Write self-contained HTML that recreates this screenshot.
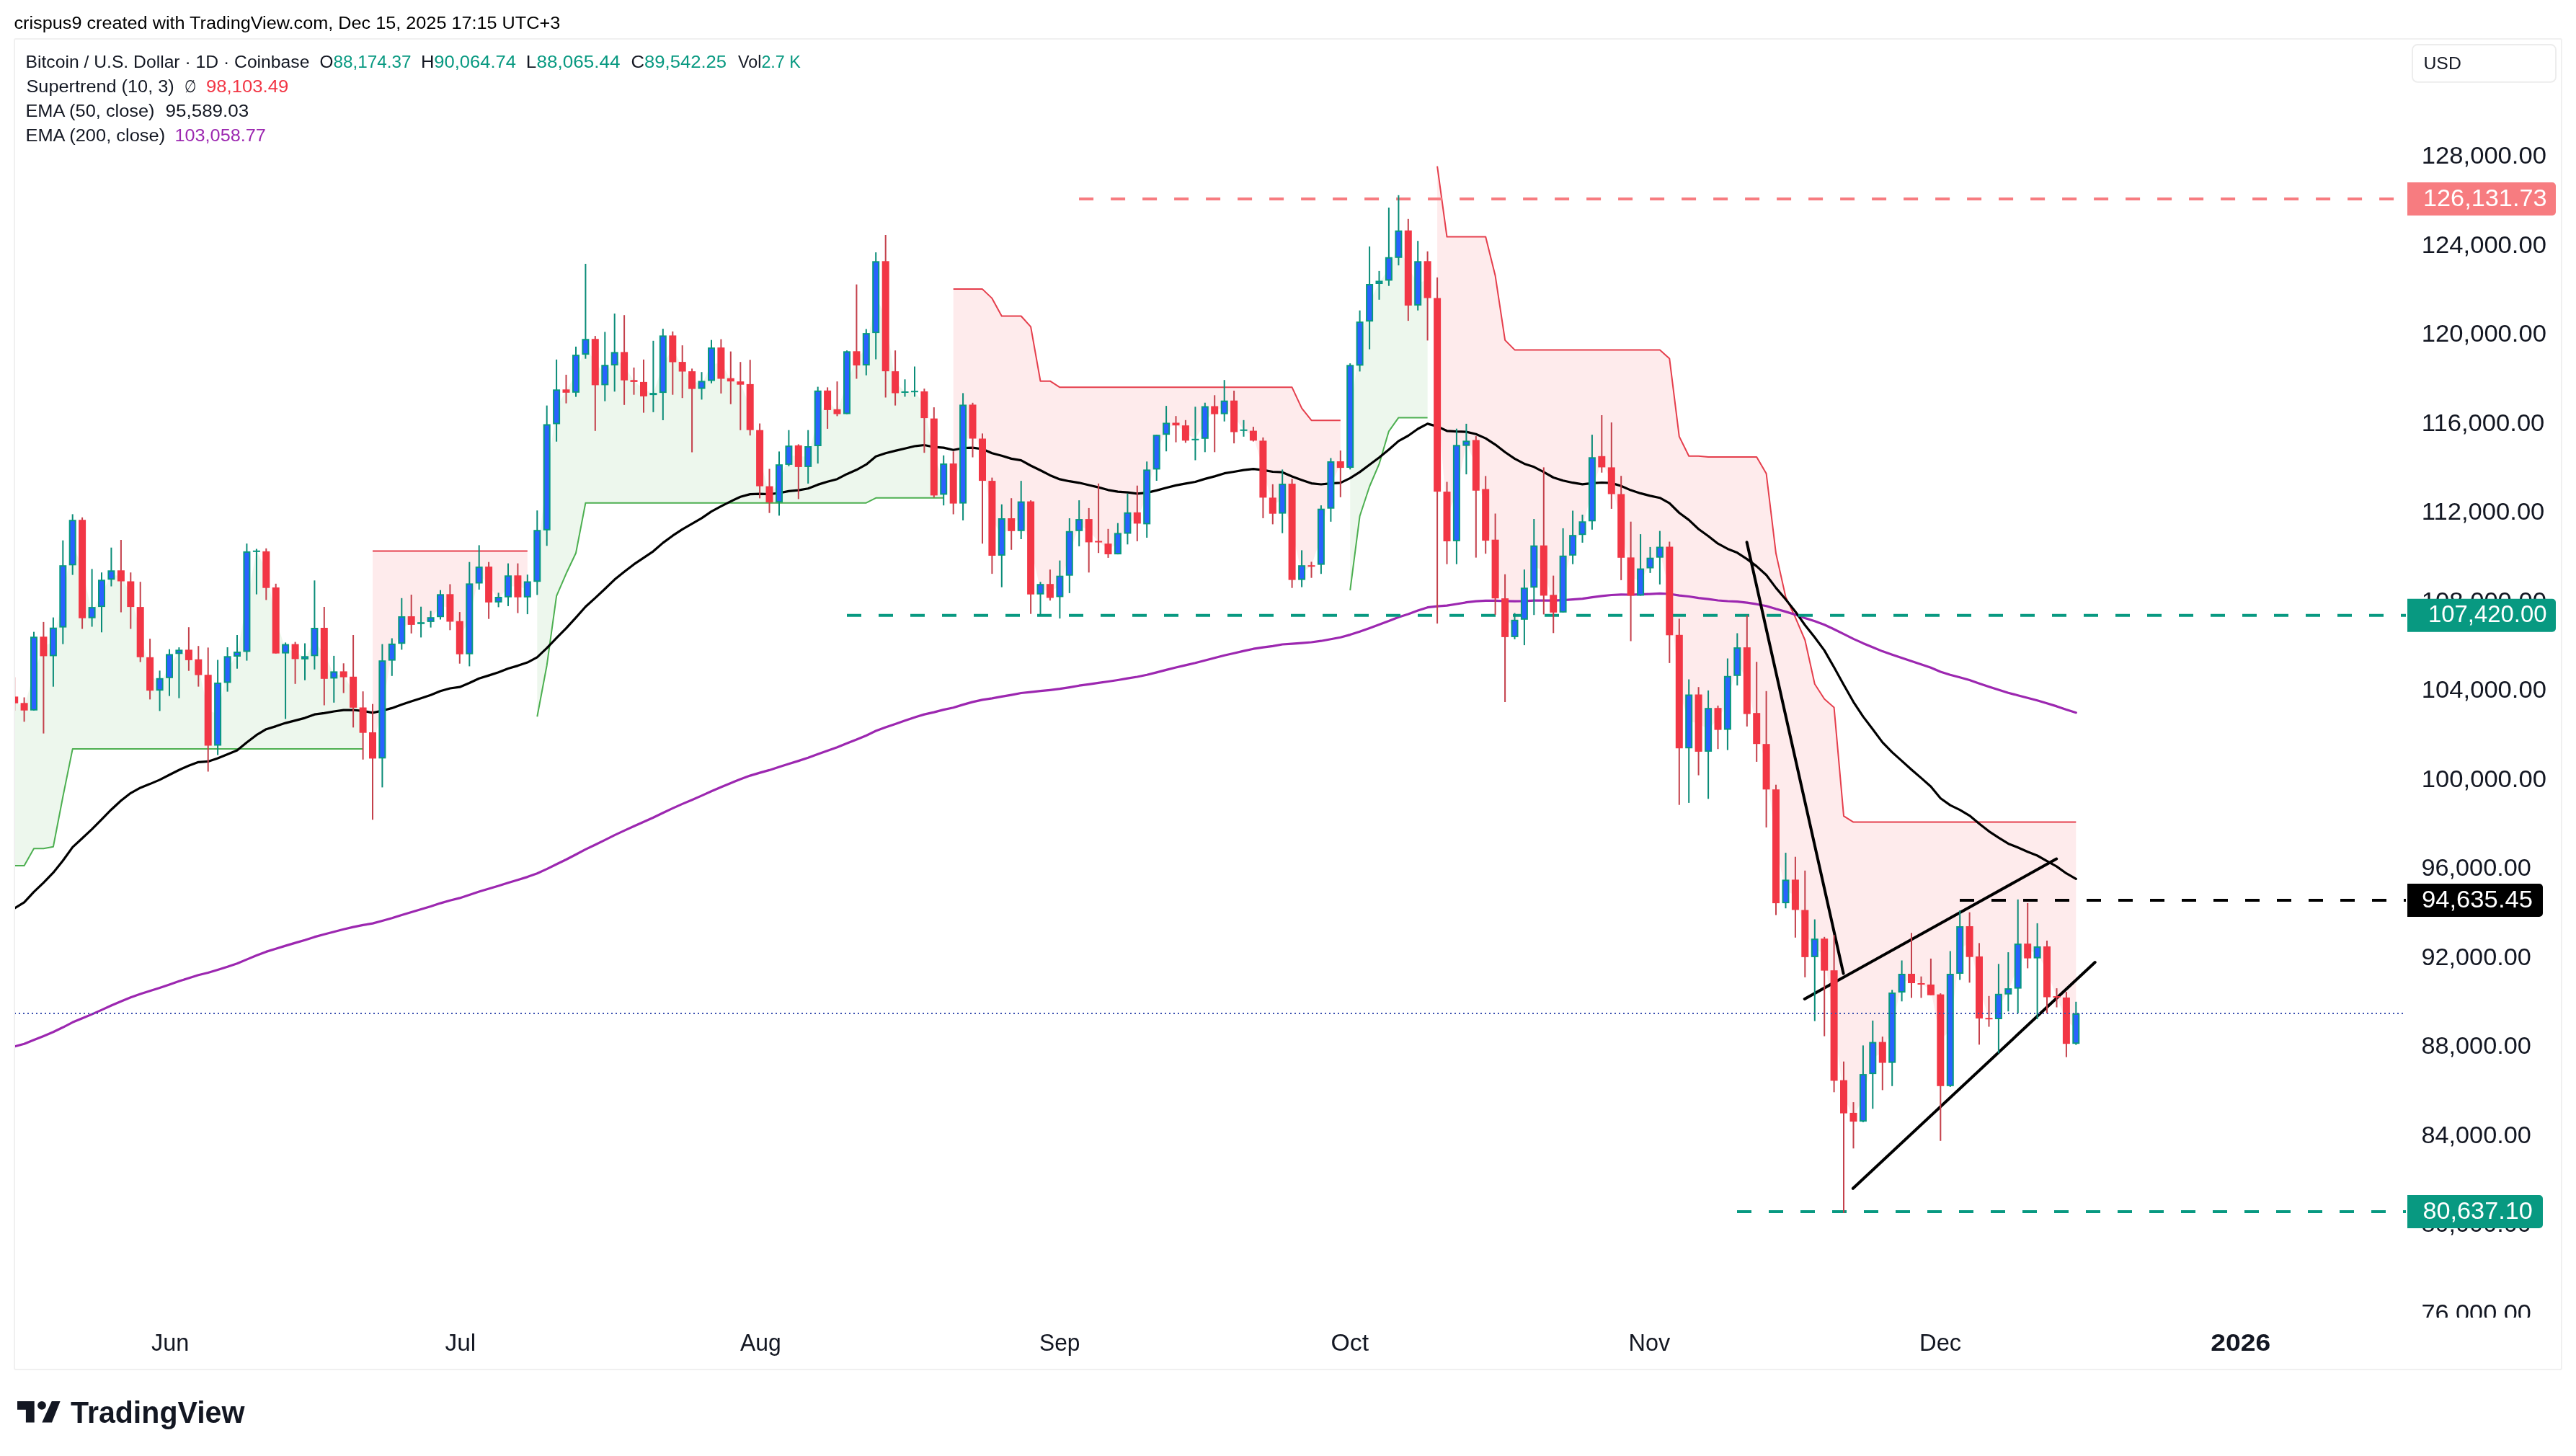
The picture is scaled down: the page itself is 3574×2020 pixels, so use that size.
<!DOCTYPE html><html><head><meta charset="utf-8"><style>
html,body{margin:0;padding:0;background:#fff;width:3574px;height:2020px;overflow:hidden}
svg{position:absolute;left:0;top:0;display:block;will-change:transform}
text{font-family:"Liberation Sans", sans-serif}
</style></head><body>
<svg width="3574" height="2020" viewBox="0 0 3574 2020">
<defs><clipPath id="pane"><rect x="21" y="55" width="3317" height="1773"/></clipPath>
<clipPath id="axis"><rect x="3338" y="55" width="215" height="1773"/></clipPath></defs>
<rect x="20" y="54" width="3534" height="1846" rx="2" fill="none" stroke="#f0f0f0" stroke-width="2"/>
<g clip-path="url(#pane)">
<polygon points="16,1200.9 33.6,1200.9 47,1177.2 60.4,1177.2 73.9,1174.7 87.3,1105.3 100.7,1039.1 114.1,1039 127.6,1039 141,1039 154.4,1039 167.9,1039 181.3,1039 194.7,1039 208.1,1039 221.6,1039 235,1039 248.4,1039 261.9,1039 275.3,1039 288.7,1039 302.1,1039 315.6,1039 329,1039 342.4,1039 355.9,1039 369.3,1039 382.7,1039 396.1,1039 409.6,1039 423,1039 436.4,1039 449.8,1039 463.3,1039 476.7,1039 490.1,1039 503.6,1039 503.6,999.1 490.1,960.4 476.7,935.5 463.3,936.4 449.8,906.4 436.4,890.6 423,912.5 409.6,904 396.1,900.1 382.7,860.8 369.3,790.3 355.9,764.5 342.4,834.6 329,907.5 315.6,928.8 302.1,990.8 288.7,985.4 275.3,925.7 261.9,908.6 248.4,904.4 235,924.1 221.6,949.5 208.1,935 194.7,877 181.3,824.3 167.9,798.9 154.4,797.8 141,823.2 127.6,849.9 114.1,789.4 100.7,752.7 87.3,827.4 73.9,890.5 60.4,896.8 47,934.5 33.6,980.4 16,971" fill="rgba(76,175,80,0.1)"/>
<polyline points="16,1200.9 33.6,1200.9 47,1177.2 60.4,1177.2 73.9,1174.7 87.3,1105.3 100.7,1039.1 114.1,1039 127.6,1039 141,1039 154.4,1039 167.9,1039 181.3,1039 194.7,1039 208.1,1039 221.6,1039 235,1039 248.4,1039 261.9,1039 275.3,1039 288.7,1039 302.1,1039 315.6,1039 329,1039 342.4,1039 355.9,1039 369.3,1039 382.7,1039 396.1,1039 409.6,1039 423,1039 436.4,1039 449.8,1039 463.3,1039 476.7,1039 490.1,1039 503.6,1039" fill="none" stroke="#4caf50" stroke-width="2" stroke-linejoin="round"/>
<polygon points="517,764.4 530.4,764.4 543.8,764.4 557.3,764.4 570.7,764.4 584.1,764.4 597.6,764.4 611,764.4 624.4,764.4 637.8,764.4 651.3,764.4 664.7,764.4 678.1,764.4 691.6,764.4 705,764.4 718.4,764.4 731.8,764.4 731.8,817.6 718.4,813.5 705,813.5 691.6,831.9 678.1,810.9 664.7,797.7 651.3,858.6 637.8,884.7 624.4,843.4 611,840.2 597.6,859.5 584.1,864.5 570.7,861 557.3,874.1 543.8,904.7 530.4,984.3 517,1034.2" fill="rgba(242,54,69,0.1)"/>
<polyline points="517,764.4 530.4,764.4 543.8,764.4 557.3,764.4 570.7,764.4 584.1,764.4 597.6,764.4 611,764.4 624.4,764.4 637.8,764.4 651.3,764.4 664.7,764.4 678.1,764.4 691.6,764.4 705,764.4 718.4,764.4 731.8,764.4" fill="none" stroke="#e53e4c" stroke-width="2" stroke-linejoin="round"/>
<polygon points="745.3,994.3 758.7,923.2 772.1,826.9 785.5,795.8 799,767.3 812.4,697.7 825.8,697.7 839.3,697.7 852.7,697.7 866.1,697.7 879.5,697.7 893,697.7 906.4,697.7 919.8,697.7 933.3,697.7 946.7,697.7 960.1,697.7 973.5,697.7 987,697.7 1000.4,697.7 1013.8,697.7 1027.3,697.7 1040.7,697.7 1054.1,697.7 1067.5,697.7 1081,697.7 1094.4,697.7 1107.8,697.7 1121.2,697.7 1134.7,697.7 1148.1,697.7 1161.5,697.7 1175,697.7 1188.4,697.7 1201.8,697.7 1215.2,690.8 1228.7,690.8 1242.1,690.8 1255.5,690.8 1269,690.8 1282.4,690.8 1295.8,690.8 1309.2,690.8 1309.2,664.7 1295.8,634.1 1282.4,561.5 1269,543 1255.5,543.5 1242.1,530.3 1228.7,438.7 1215.2,412.2 1201.8,484.5 1188.4,497.1 1175,530.9 1161.5,571.1 1148.1,555.4 1134.7,580.4 1121.2,633.5 1107.8,632.9 1094.4,631.6 1081,670.5 1067.5,685.8 1054.1,635.7 1040.7,564.8 1027.3,531.5 1013.8,526.9 1000.4,503.8 987,505.2 973.5,534 960.1,527.3 946.7,508.8 933.3,483.9 919.8,505.2 906.4,546.6 893,539.9 879.5,528.6 866.1,508 852.7,497.6 839.3,520.3 825.8,502.3 812.4,481.1 799,518.4 785.5,542.5 772.1,564.4 758.7,662.1 745.3,771.2" fill="rgba(76,175,80,0.1)"/>
<polyline points="745.3,994.3 758.7,923.2 772.1,826.9 785.5,795.8 799,767.3 812.4,697.7 825.8,697.7 839.3,697.7 852.7,697.7 866.1,697.7 879.5,697.7 893,697.7 906.4,697.7 919.8,697.7 933.3,697.7 946.7,697.7 960.1,697.7 973.5,697.7 987,697.7 1000.4,697.7 1013.8,697.7 1027.3,697.7 1040.7,697.7 1054.1,697.7 1067.5,697.7 1081,697.7 1094.4,697.7 1107.8,697.7 1121.2,697.7 1134.7,697.7 1148.1,697.7 1161.5,697.7 1175,697.7 1188.4,697.7 1201.8,697.7 1215.2,690.8 1228.7,690.8 1242.1,690.8 1255.5,690.8 1269,690.8 1282.4,690.8 1295.8,690.8 1309.2,690.8" fill="none" stroke="#4caf50" stroke-width="2" stroke-linejoin="round"/>
<polygon points="1322.7,401.1 1336.1,401.1 1349.5,401.1 1363,401.1 1376.4,413.9 1389.8,438.5 1403.2,438.5 1416.7,438.5 1430.1,453.4 1443.5,528.7 1456.9,528.7 1470.4,537.3 1483.8,537.3 1497.2,537.3 1510.7,537.3 1524.1,537.3 1537.5,537.3 1550.9,537.3 1564.4,537.3 1577.8,537.3 1591.2,537.3 1604.7,537.3 1618.1,537.3 1631.5,537.3 1644.9,537.3 1658.4,537.3 1671.8,537.3 1685.2,537.3 1698.7,537.3 1712.1,537.3 1725.5,537.3 1738.9,537.3 1752.4,537.3 1765.8,537.3 1779.2,537.3 1792.6,537.3 1806.1,566.3 1819.5,583.2 1832.9,583.2 1846.4,583.2 1859.8,583.2 1859.8,644.5 1846.4,672.8 1832.9,744.6 1819.5,785.1 1806.1,794.4 1792.6,737.8 1779.2,691.9 1765.8,701.5 1752.4,650.9 1738.9,604.5 1725.5,596.7 1712.1,577.6 1698.7,565.2 1685.2,569.1 1671.8,586.1 1658.4,609.7 1644.9,600.8 1631.5,588.4 1618.1,594.9 1604.7,627.3 1591.2,689.4 1577.8,718.6 1564.4,725.6 1550.9,754.2 1537.5,761.6 1524.1,751.4 1510.7,736.2 1497.2,728.4 1483.8,767.8 1470.4,813.6 1456.9,819.9 1443.5,817.5 1430.1,760.2 1416.7,716.2 1403.2,727.9 1389.8,745 1376.4,719 1363,637.8 1349.5,584.9 1336.1,630 1322.7,670.8" fill="rgba(242,54,69,0.1)"/>
<polyline points="1322.7,401.1 1336.1,401.1 1349.5,401.1 1363,401.1 1376.4,413.9 1389.8,438.5 1403.2,438.5 1416.7,438.5 1430.1,453.4 1443.5,528.7 1456.9,528.7 1470.4,537.3 1483.8,537.3 1497.2,537.3 1510.7,537.3 1524.1,537.3 1537.5,537.3 1550.9,537.3 1564.4,537.3 1577.8,537.3 1591.2,537.3 1604.7,537.3 1618.1,537.3 1631.5,537.3 1644.9,537.3 1658.4,537.3 1671.8,537.3 1685.2,537.3 1698.7,537.3 1712.1,537.3 1725.5,537.3 1738.9,537.3 1752.4,537.3 1765.8,537.3 1779.2,537.3 1792.6,537.3 1806.1,566.3 1819.5,583.2 1832.9,583.2 1846.4,583.2 1859.8,583.2" fill="none" stroke="#e53e4c" stroke-width="2" stroke-linejoin="round"/>
<polygon points="1873.2,819 1886.6,716 1900.1,675 1913.5,643.6 1926.9,598.3 1940.4,579.4 1953.8,579.4 1967.2,579.4 1980.6,579.4 1980.6,387.9 1967.2,393.1 1953.8,371.8 1940.4,338.7 1926.9,373.2 1913.5,391.7 1900.1,420 1886.6,476.7 1873.2,577.7" fill="rgba(76,175,80,0.1)"/>
<polyline points="1873.2,819 1886.6,716 1900.1,675 1913.5,643.6 1926.9,598.3 1940.4,579.4 1953.8,579.4 1967.2,579.4 1980.6,579.4" fill="none" stroke="#4caf50" stroke-width="2" stroke-linejoin="round"/>
<polygon points="1994.1,230.6 2007.5,328.5 2020.9,328.5 2034.4,328.5 2047.8,328.5 2061.2,328.5 2074.6,382.6 2088.1,471.9 2101.5,485.4 2114.9,485.4 2128.3,485.4 2141.8,485.4 2155.2,485.4 2168.6,485.4 2182.1,485.4 2195.5,485.4 2208.9,485.4 2222.3,485.4 2235.8,485.4 2249.2,485.4 2262.6,485.4 2276.1,485.4 2289.5,485.4 2302.9,485.4 2316.3,497.6 2329.8,605.6 2343.2,632.7 2356.6,632.7 2370.1,634.1 2383.5,634.1 2396.9,634.1 2410.3,634.1 2423.8,634.1 2437.2,634.1 2450.6,657 2464,767.8 2477.5,828.1 2490.9,856.7 2504.3,888 2517.8,949 2531.2,969.8 2544.6,981.5 2558,1132.2 2571.5,1140.6 2584.9,1140.6 2598.3,1140.6 2611.8,1140.6 2625.2,1140.6 2638.6,1140.6 2652,1140.6 2665.5,1140.6 2678.9,1140.6 2692.3,1140.6 2705.8,1140.6 2719.2,1140.6 2732.6,1140.6 2746,1140.6 2759.5,1140.6 2772.9,1140.6 2786.3,1140.6 2799.7,1140.6 2813.2,1140.6 2826.6,1140.6 2840,1140.6 2853.5,1140.6 2866.9,1140.6 2880.3,1140.6 2880.3,1427.1 2866.9,1416.1 2853.5,1382.7 2840,1348.3 2826.6,1321.3 2813.2,1319.4 2799.7,1340.4 2786.3,1375.4 2772.9,1396.5 2759.5,1413.2 2746,1369.9 2732.6,1306.3 2719.2,1318 2705.8,1428.9 2692.3,1443.2 2678.9,1373.3 2665.5,1364.9 2652,1357.5 2638.6,1364 2625.2,1425.8 2611.8,1460.1 2598.3,1467.9 2584.9,1523.1 2571.5,1550 2558,1521.6 2544.6,1422.8 2531.2,1324.4 2517.8,1315 2504.3,1295.2 2490.9,1241.4 2477.5,1236.8 2464,1174.2 2450.6,1063.7 2437.2,1010.7 2423.8,944.3 2410.3,918 2396.9,975.2 2383.5,997.4 2370.1,1012.5 2356.6,1003.2 2343.2,1000.9 2329.8,959.5 2316.3,819.9 2302.9,766.1 2289.5,781.2 2276.1,807.5 2262.6,799.9 2249.2,729.6 2235.8,666.9 2222.3,640.6 2208.9,678.8 2195.5,732.8 2182.1,756.5 2168.6,810.3 2155.2,837.5 2141.8,791.5 2128.3,786 2114.9,837.5 2101.5,871.8 2088.1,857 2074.6,789.5 2061.2,714.3 2047.8,645.6 2034.4,615.1 2020.9,684.2 2007.5,716.5 1994.1,547.8" fill="rgba(242,54,69,0.1)"/>
<polyline points="1994.1,230.6 2007.5,328.5 2020.9,328.5 2034.4,328.5 2047.8,328.5 2061.2,328.5 2074.6,382.6 2088.1,471.9 2101.5,485.4 2114.9,485.4 2128.3,485.4 2141.8,485.4 2155.2,485.4 2168.6,485.4 2182.1,485.4 2195.5,485.4 2208.9,485.4 2222.3,485.4 2235.8,485.4 2249.2,485.4 2262.6,485.4 2276.1,485.4 2289.5,485.4 2302.9,485.4 2316.3,497.6 2329.8,605.6 2343.2,632.7 2356.6,632.7 2370.1,634.1 2383.5,634.1 2396.9,634.1 2410.3,634.1 2423.8,634.1 2437.2,634.1 2450.6,657 2464,767.8 2477.5,828.1 2490.9,856.7 2504.3,888 2517.8,949 2531.2,969.8 2544.6,981.5 2558,1132.2 2571.5,1140.6 2584.9,1140.6 2598.3,1140.6 2611.8,1140.6 2625.2,1140.6 2638.6,1140.6 2652,1140.6 2665.5,1140.6 2678.9,1140.6 2692.3,1140.6 2705.8,1140.6 2719.2,1140.6 2732.6,1140.6 2746,1140.6 2759.5,1140.6 2772.9,1140.6 2786.3,1140.6 2799.7,1140.6 2813.2,1140.6 2826.6,1140.6 2840,1140.6 2853.5,1140.6 2866.9,1140.6 2880.3,1140.6" fill="none" stroke="#e53e4c" stroke-width="2" stroke-linejoin="round"/>
<polyline points="16,1453 33.6,1448.3 47,1442.7 60.4,1437.4 73.9,1431.8 87.3,1425.3 100.7,1418.3 114.1,1412.8 127.6,1407.1 141,1401.1 154.4,1395 167.9,1389.2 181.3,1383.7 194.7,1379 208.1,1374.8 221.6,1370.5 235,1365.9 248.4,1361.3 261.9,1356.9 275.3,1352.7 288.7,1349.5 302.1,1345.5 315.6,1341.2 329,1336.8 342.4,1331.1 355.9,1325.5 369.3,1320.4 382.7,1316.3 396.1,1312.1 409.6,1308.1 423,1304.2 436.4,1299.9 449.8,1296.3 463.3,1292.7 476.7,1289.2 490.1,1286.1 503.6,1283.4 517,1281.1 530.4,1277.5 543.8,1273.7 557.3,1269.5 570.7,1265.5 584.1,1261.5 597.6,1257.5 611,1253.1 624.4,1249.3 637.8,1245.9 651.3,1241.5 664.7,1237 678.1,1233 691.6,1229 705,1224.7 718.4,1220.7 731.8,1216.6 745.3,1211.8 758.7,1205.6 772.1,1199 785.5,1192.5 799,1185.5 812.4,1178.4 825.8,1172 839.3,1165.4 852.7,1158.6 866.1,1152.4 879.5,1146.2 893,1140.2 906.4,1134.3 919.8,1127.7 933.3,1121.4 946.7,1115.4 960.1,1109.7 973.5,1103.9 987,1097.7 1000.4,1092 1013.8,1086.4 1027.3,1080.9 1040.7,1076.1 1054.1,1072.1 1067.5,1068.4 1081,1064.1 1094.4,1059.7 1107.8,1055.6 1121.2,1051.3 1134.7,1046.2 1148.1,1041.4 1161.5,1036.8 1175,1031.3 1188.4,1026.1 1201.8,1020.5 1215.2,1014 1228.7,1009 1242.1,1004.4 1255.5,999.8 1269,995.2 1282.4,991.1 1295.8,988.1 1309.2,984.6 1322.7,981.8 1336.1,977.6 1349.5,973.9 1363,970.9 1376.4,968.9 1389.8,966.4 1403.2,964.1 1416.7,961.5 1430.1,960.1 1443.5,958.6 1456.9,957.3 1470.4,955.7 1483.8,953.6 1497.2,951.2 1510.7,949.3 1524.1,947.3 1537.5,945.5 1550.9,943.5 1564.4,941.2 1577.8,939 1591.2,936.2 1604.7,932.9 1618.1,929.4 1631.5,926 1644.9,922.9 1658.4,919.8 1671.8,916.2 1685.2,912.8 1698.7,909.3 1712.1,906.2 1725.5,903.1 1738.9,900.2 1752.4,898.1 1765.8,896.3 1779.2,894 1792.6,893.1 1806.1,892.1 1819.5,891 1832.9,889.2 1846.4,886.7 1859.8,884.3 1873.2,880.6 1886.6,876.2 1900.1,871.4 1913.5,866.6 1926.9,861.6 1940.4,856.2 1953.8,851.9 1967.2,847 1980.6,842.7 1994.1,841.1 2007.5,840.2 2020.9,838 2034.4,835.7 2047.8,834.2 2061.2,833.3 2074.6,833.3 2088.1,833.8 2101.5,834.1 2114.9,833.9 2128.3,833.1 2141.8,833 2155.2,833.2 2168.6,832.6 2182.1,831.7 2195.5,830.6 2208.9,828.7 2222.3,826.9 2235.8,825.5 2249.2,824.9 2262.6,825 2276.1,824.6 2289.5,824.1 2302.9,823.4 2316.3,824 2329.8,826.1 2343.2,827.5 2356.6,829.7 2370.1,831.2 2383.5,833 2396.9,834 2410.3,834.7 2423.8,836.2 2437.2,838.2 2450.6,840.7 2464,844.8 2477.5,848.6 2490.9,852.7 2504.3,857.4 2517.8,861.8 2531.2,866.7 2544.6,873 2558,879.6 2571.5,886.4 2584.9,892.4 2598.3,897.9 2611.8,903.6 2625.2,908.3 2638.6,912.7 2652,917.2 2665.5,921.7 2678.9,926.3 2692.3,932 2705.8,936.2 2719.2,939.7 2732.6,943.5 2746,948.2 2759.5,952.8 2772.9,957.1 2786.3,961.2 2799.7,964.7 2813.2,968.3 2826.6,971.7 2840,975.8 2853.5,979.9 2866.9,984.5 2880.3,988.7" fill="none" stroke="#9c27b0" stroke-width="3.2" stroke-linejoin="round" stroke-linecap="round"/>
<polyline points="16,1262.7 33.6,1251.8 47,1237.4 60.4,1224.6 73.9,1210.7 87.3,1194 100.7,1175.4 114.1,1163 127.6,1150.4 141,1136.8 154.4,1123.2 167.9,1110.8 181.3,1100.3 194.7,1092.9 208.1,1087.6 221.6,1081.9 235,1075 248.4,1068.2 261.9,1062.2 275.3,1057.3 288.7,1056.4 302.1,1052.1 315.6,1046.6 329,1041 342.4,1030.1 355.9,1019.7 369.3,1011.7 382.7,1007.6 396.1,1003.1 409.6,999.6 423,996.1 436.4,991.2 449.8,989.3 463.3,987 476.7,985.1 490.1,985 503.6,986.3 517,988.9 530.4,986 543.8,982.4 557.3,977.4 570.7,973 584.1,968.7 597.6,964.3 611,958.8 624.4,955 637.8,953.2 651.3,947.5 664.7,941.2 678.1,937.1 691.6,932.8 705,927.5 718.4,923.6 731.8,919.1 745.3,911.8 758.7,899.2 772.1,885.1 785.5,871.7 799,856.9 812.4,841.7 825.8,829.6 839.3,817 852.7,804.1 866.1,793.2 879.5,782.9 893,773.8 906.4,764.8 919.8,753.1 933.3,743.2 946.7,734.3 960.1,726.7 973.5,718.9 987,709.6 1000.4,702.4 1013.8,695.6 1027.3,689.2 1040.7,685.6 1054.1,685.2 1067.5,685.6 1081,684 1094.4,681.4 1107.8,680.1 1121.2,677.7 1134.7,672.4 1148.1,668.3 1161.5,664.7 1175,657.7 1188.4,651.8 1201.8,644.4 1215.2,633.3 1228.7,628.7 1242.1,625.4 1255.5,622.2 1269,619 1282.4,617.5 1295.8,620.2 1309.2,621.1 1322.7,624.2 1336.1,621.7 1349.5,621.2 1363,623 1376.4,628.8 1389.8,632.3 1403.2,636.4 1416.7,638.7 1430.1,646 1443.5,652.5 1456.9,659.4 1470.4,664.9 1483.8,667.7 1497.2,669.8 1510.7,673 1524.1,676.1 1537.5,679.8 1550.9,682.1 1564.4,683.2 1577.8,684.9 1591.2,683.6 1604.7,680.4 1618.1,676.8 1631.5,673.4 1644.9,670.9 1658.4,668.5 1671.8,664.4 1685.2,660.9 1698.7,656.7 1712.1,654.5 1725.5,652.2 1738.9,650.6 1752.4,652.2 1765.8,654.5 1779.2,655.2 1792.6,661 1806.1,665.9 1819.5,670.6 1832.9,672 1846.4,670.7 1859.8,669.9 1873.2,663.4 1886.6,654.9 1900.1,644.7 1913.5,634.7 1926.9,623.8 1940.4,611.9 1953.8,604.5 1967.2,595 1980.6,587.9 1994.1,591.6 2007.5,597.8 2020.9,598.6 2034.4,599.1 2047.8,602.3 2061.2,608.1 2074.6,616.8 2088.1,627.3 2101.5,636.4 2114.9,643.4 2128.3,647.8 2141.8,654.8 2155.2,662.5 2168.6,666.7 2182.1,669.7 2195.5,671.8 2208.9,670.3 2222.3,669.5 2235.8,670.1 2249.2,674.2 2262.6,680.1 2276.1,684.4 2289.5,687.9 2302.9,690.7 2316.3,698.1 2329.8,711.5 2343.2,721.4 2356.6,734 2370.1,743.7 2383.5,754.2 2396.9,761.4 2410.3,766.8 2423.8,775.6 2437.2,785.6 2450.6,797.8 2464,815.6 2477.5,831.5 2490.9,848.4 2504.3,867.2 2517.8,884.3 2531.2,902.4 2544.6,925.8 2558,950.1 2571.5,973.8 2584.9,994.1 2598.3,1011.8 2611.8,1029.9 2625.2,1043.6 2638.6,1055.6 2652,1067.7 2665.5,1079.4 2678.9,1091.2 2692.3,1107.5 2705.8,1117.1 2719.2,1123.6 2732.6,1131.6 2746,1142.7 2759.5,1153.3 2772.9,1162.2 2786.3,1170.4 2799.7,1175.8 2813.2,1181.8 2826.6,1187 2840,1194.7 2853.5,1202.1 2866.9,1211.7 2880.3,1219.3" fill="none" stroke="#000000" stroke-width="3.2" stroke-linejoin="round" stroke-linecap="round"/>
<line x1="1497.1" y1="276" x2="3338" y2="276" stroke="#f77c80" stroke-width="4" stroke-dasharray="20 24"/>
<line x1="1175" y1="853.8" x2="3338" y2="853.8" stroke="#089981" stroke-width="4" stroke-dasharray="20 24"/>
<line x1="2719" y1="1249" x2="3338" y2="1249" stroke="#000000" stroke-width="4" stroke-dasharray="20 24"/>
<line x1="2410" y1="1681" x2="3338" y2="1681" stroke="#089981" stroke-width="4" stroke-dasharray="20 24"/>
<line x1="2423.6" y1="752.3" x2="2557.6" y2="1350.6" stroke="#000" stroke-width="4" stroke-linecap="round"/>
<line x1="2503.7" y1="1385.9" x2="2853.2" y2="1191.6" stroke="#000" stroke-width="4" stroke-linecap="round"/>
<line x1="2570.9" y1="1648.8" x2="2906.7" y2="1335" stroke="#000" stroke-width="4" stroke-linecap="round"/>
<rect x="19.2" y="939.6" width="2" height="46.4" fill="#c4404b"/><rect x="32.6" y="967.5" width="2" height="33.8" fill="#c4404b"/><rect x="46" y="876.6" width="2" height="109.1" fill="#0a8c78"/><rect x="59.4" y="862.9" width="2" height="154.7" fill="#c4404b"/><rect x="72.9" y="856.6" width="2" height="96.1" fill="#0a8c78"/><rect x="86.3" y="749.7" width="2" height="143.9" fill="#0a8c78"/><rect x="99.7" y="713.4" width="2" height="84.2" fill="#0a8c78"/><rect x="113.1" y="717.8" width="2" height="154.7" fill="#c4404b"/><rect x="126.6" y="789.4" width="2" height="80.1" fill="#0a8c78"/><rect x="140" y="794.2" width="2" height="83.1" fill="#0a8c78"/><rect x="153.4" y="759.7" width="2" height="53.8" fill="#0a8c78"/><rect x="166.9" y="749" width="2" height="100.5" fill="#c4404b"/><rect x="180.3" y="794.2" width="2" height="78.3" fill="#c4404b"/><rect x="193.7" y="807.2" width="2" height="111.3" fill="#c4404b"/><rect x="207.1" y="886.2" width="2" height="84.2" fill="#c4404b"/><rect x="220.6" y="930.4" width="2" height="56" fill="#0a8c78"/><rect x="234" y="900.7" width="2" height="64.9" fill="#0a8c78"/><rect x="247.4" y="898.1" width="2" height="70.5" fill="#0a8c78"/><rect x="260.9" y="870.2" width="2" height="60.5" fill="#c4404b"/><rect x="274.3" y="896.2" width="2" height="56.4" fill="#c4404b"/><rect x="287.7" y="898.4" width="2" height="172.1" fill="#c4404b"/><rect x="301.1" y="915.5" width="2" height="132" fill="#0a8c78"/><rect x="314.6" y="898" width="2" height="61.6" fill="#0a8c78"/><rect x="328" y="881" width="2" height="46.7" fill="#0a8c78"/><rect x="341.4" y="754.1" width="2" height="162.5" fill="#0a8c78"/><rect x="354.9" y="761.5" width="2" height="63.1" fill="#0a8c78"/><rect x="368.3" y="760.8" width="2" height="71.6" fill="#c4404b"/><rect x="381.7" y="809.8" width="2" height="96.8" fill="#c4404b"/><rect x="395.1" y="891.4" width="2" height="106.1" fill="#0a8c78"/><rect x="408.6" y="890.6" width="2" height="58.2" fill="#c4404b"/><rect x="422" y="892.5" width="2" height="51.2" fill="#0a8c78"/><rect x="435.4" y="805.3" width="2" height="123.5" fill="#0a8c78"/><rect x="448.8" y="842" width="2" height="136.5" fill="#c4404b"/><rect x="462.3" y="909.9" width="2" height="64.9" fill="#0a8c78"/><rect x="475.7" y="920.3" width="2" height="41.2" fill="#c4404b"/><rect x="489.1" y="881" width="2" height="128.3" fill="#c4404b"/><rect x="502.6" y="959.2" width="2" height="94.6" fill="#c4404b"/><rect x="516" y="976.7" width="2" height="160.6" fill="#c4404b"/><rect x="529.4" y="893.6" width="2" height="198.8" fill="#0a8c78"/><rect x="542.8" y="885.5" width="2" height="52.3" fill="#0a8c78"/><rect x="556.3" y="829.8" width="2" height="71.6" fill="#0a8c78"/><rect x="569.7" y="825" width="2" height="53.8" fill="#c4404b"/><rect x="583.1" y="841.7" width="2" height="42.7" fill="#0a8c78"/><rect x="596.6" y="847.6" width="2" height="23" fill="#0a8c78"/><rect x="610" y="818.7" width="2" height="40.8" fill="#0a8c78"/><rect x="623.4" y="810.5" width="2" height="63.8" fill="#c4404b"/><rect x="636.8" y="849.1" width="2" height="71.6" fill="#c4404b"/><rect x="650.3" y="779.7" width="2" height="144.7" fill="#0a8c78"/><rect x="663.7" y="756.4" width="2" height="61.6" fill="#0a8c78"/><rect x="677.1" y="779.7" width="2" height="79" fill="#c4404b"/><rect x="690.6" y="822.4" width="2" height="20" fill="#0a8c78"/><rect x="704" y="781.6" width="2" height="59.3" fill="#0a8c78"/><rect x="717.4" y="781.6" width="2" height="69" fill="#c4404b"/><rect x="730.8" y="797.2" width="2" height="54.9" fill="#0a8c78"/><rect x="744.3" y="708.2" width="2" height="117.2" fill="#0a8c78"/><rect x="757.7" y="562.6" width="2" height="194.7" fill="#0a8c78"/><rect x="771.1" y="498.8" width="2" height="113.9" fill="#0a8c78"/><rect x="784.5" y="519.9" width="2" height="39.7" fill="#c4404b"/><rect x="798" y="480.9" width="2" height="69.7" fill="#0a8c78"/><rect x="811.4" y="366" width="2" height="131.7" fill="#0a8c78"/><rect x="824.8" y="466.1" width="2" height="131.7" fill="#c4404b"/><rect x="838.3" y="460.5" width="2" height="96.1" fill="#0a8c78"/><rect x="851.7" y="435" width="2" height="108.3" fill="#0a8c78"/><rect x="865.1" y="437.2" width="2" height="124.6" fill="#c4404b"/><rect x="878.5" y="509.9" width="2" height="37.8" fill="#c4404b"/><rect x="892" y="498.8" width="2" height="73.8" fill="#c4404b"/><rect x="905.4" y="472.8" width="2" height="99" fill="#0a8c78"/><rect x="918.8" y="456.1" width="2" height="126.9" fill="#0a8c78"/><rect x="932.3" y="459.8" width="2" height="87.9" fill="#c4404b"/><rect x="945.7" y="479.1" width="2" height="73.1" fill="#c4404b"/><rect x="959.1" y="511.4" width="2" height="116.1" fill="#c4404b"/><rect x="972.5" y="516.2" width="2" height="38.2" fill="#0a8c78"/><rect x="986" y="471.7" width="2" height="60.1" fill="#0a8c78"/><rect x="999.4" y="470.6" width="2" height="75.3" fill="#c4404b"/><rect x="1012.8" y="487.6" width="2" height="73.1" fill="#c4404b"/><rect x="1026.3" y="502.2" width="2" height="94.6" fill="#c4404b"/><rect x="1039.7" y="499.2" width="2" height="105" fill="#c4404b"/><rect x="1053.1" y="587.5" width="2" height="103.9" fill="#c4404b"/><rect x="1066.5" y="650.5" width="2" height="61.2" fill="#c4404b"/><rect x="1080" y="626.4" width="2" height="89" fill="#0a8c78"/><rect x="1093.4" y="596.7" width="2" height="50.1" fill="#0a8c78"/><rect x="1106.8" y="616.4" width="2" height="76" fill="#c4404b"/><rect x="1120.2" y="596.7" width="2" height="74.2" fill="#0a8c78"/><rect x="1133.7" y="536.6" width="2" height="106.5" fill="#0a8c78"/><rect x="1147.1" y="537.4" width="2" height="57.5" fill="#c4404b"/><rect x="1160.5" y="529.2" width="2" height="48.2" fill="#c4404b"/><rect x="1174" y="486.2" width="2" height="88.3" fill="#0a8c78"/><rect x="1187.4" y="394.6" width="2" height="130.9" fill="#c4404b"/><rect x="1200.8" y="456.5" width="2" height="64.2" fill="#0a8c78"/><rect x="1214.2" y="350.1" width="2" height="148.4" fill="#0a8c78"/><rect x="1227.7" y="326" width="2" height="225.5" fill="#c4404b"/><rect x="1241.1" y="486.2" width="2" height="76.4" fill="#c4404b"/><rect x="1254.5" y="526.3" width="2" height="24.1" fill="#0a8c78"/><rect x="1268" y="508.5" width="2" height="41.9" fill="#0a8c78"/><rect x="1281.4" y="539.2" width="2" height="89" fill="#c4404b"/><rect x="1294.8" y="565.1" width="2" height="125" fill="#c4404b"/><rect x="1308.2" y="631.8" width="2" height="69.4" fill="#0a8c78"/><rect x="1321.7" y="626.3" width="2" height="87.2" fill="#c4404b"/><rect x="1335.1" y="545.4" width="2" height="176.6" fill="#0a8c78"/><rect x="1348.5" y="558.8" width="2" height="75.7" fill="#c4404b"/><rect x="1362" y="601.4" width="2" height="152.8" fill="#c4404b"/><rect x="1375.4" y="662.6" width="2" height="133.5" fill="#c4404b"/><rect x="1388.8" y="699.7" width="2" height="115" fill="#0a8c78"/><rect x="1402.2" y="691.2" width="2" height="71.6" fill="#c4404b"/><rect x="1415.7" y="667.1" width="2" height="80.9" fill="#0a8c78"/><rect x="1429.1" y="694.1" width="2" height="157.6" fill="#c4404b"/><rect x="1442.5" y="807.3" width="2" height="46" fill="#0a8c78"/><rect x="1455.9" y="790.2" width="2" height="43" fill="#c4404b"/><rect x="1469.4" y="777.6" width="2" height="80.5" fill="#0a8c78"/><rect x="1482.8" y="719" width="2" height="103.9" fill="#0a8c78"/><rect x="1496.2" y="694.1" width="2" height="63.8" fill="#0a8c78"/><rect x="1509.7" y="704.9" width="2" height="89.4" fill="#c4404b"/><rect x="1523.1" y="670.8" width="2" height="96.4" fill="#c4404b"/><rect x="1536.5" y="733.8" width="2" height="40.1" fill="#c4404b"/><rect x="1549.9" y="725.7" width="2" height="43.4" fill="#0a8c78"/><rect x="1563.4" y="684.8" width="2" height="70.5" fill="#0a8c78"/><rect x="1576.8" y="673.7" width="2" height="77.2" fill="#c4404b"/><rect x="1590.2" y="640.3" width="2" height="105.7" fill="#0a8c78"/><rect x="1603.7" y="603.2" width="2" height="63.8" fill="#0a8c78"/><rect x="1617.1" y="563.1" width="2" height="63.1" fill="#0a8c78"/><rect x="1630.5" y="577.2" width="2" height="36.4" fill="#c4404b"/><rect x="1643.9" y="582.8" width="2" height="31.5" fill="#c4404b"/><rect x="1657.4" y="564.3" width="2" height="74.2" fill="#0a8c78"/><rect x="1670.8" y="558.7" width="2" height="68.6" fill="#0a8c78"/><rect x="1684.2" y="548.3" width="2" height="79" fill="#c4404b"/><rect x="1697.7" y="527.2" width="2" height="57.5" fill="#0a8c78"/><rect x="1711.1" y="542" width="2" height="73.1" fill="#c4404b"/><rect x="1724.5" y="582.8" width="2" height="23" fill="#0a8c78"/><rect x="1737.9" y="592.1" width="2" height="20.4" fill="#c4404b"/><rect x="1751.4" y="606.9" width="2" height="112" fill="#c4404b"/><rect x="1764.8" y="671.8" width="2" height="55.6" fill="#c4404b"/><rect x="1778.2" y="651.4" width="2" height="88.3" fill="#0a8c78"/><rect x="1791.6" y="664.4" width="2" height="151.3" fill="#c4404b"/><rect x="1805.1" y="763.4" width="2" height="51.2" fill="#0a8c78"/><rect x="1818.5" y="779.4" width="2" height="22.3" fill="#c4404b"/><rect x="1831.9" y="701.1" width="2" height="95.1" fill="#0a8c78"/><rect x="1845.4" y="635.5" width="2" height="88.3" fill="#0a8c78"/><rect x="1858.8" y="625" width="2" height="64.8" fill="#c4404b"/><rect x="1872.2" y="504.1" width="2" height="147.2" fill="#0a8c78"/><rect x="1885.6" y="430.7" width="2" height="84.7" fill="#0a8c78"/><rect x="1899.1" y="341.9" width="2" height="142.7" fill="#0a8c78"/><rect x="1912.5" y="375.9" width="2" height="39.9" fill="#0a8c78"/><rect x="1925.9" y="288" width="2" height="108.7" fill="#0a8c78"/><rect x="1939.4" y="270.8" width="2" height="97.4" fill="#0a8c78"/><rect x="1952.8" y="303.8" width="2" height="141.3" fill="#c4404b"/><rect x="1966.2" y="334.2" width="2" height="96.5" fill="#0a8c78"/><rect x="1979.6" y="348.7" width="2" height="123.7" fill="#c4404b"/><rect x="1993.1" y="384.9" width="2" height="480.2" fill="#c4404b"/><rect x="2006.5" y="668.5" width="2" height="114.2" fill="#c4404b"/><rect x="2019.9" y="594.7" width="2" height="188" fill="#0a8c78"/><rect x="2033.4" y="587.9" width="2" height="70.2" fill="#0a8c78"/><rect x="2046.8" y="605.1" width="2" height="168.5" fill="#c4404b"/><rect x="2060.2" y="660.4" width="2" height="107.8" fill="#c4404b"/><rect x="2073.6" y="712.5" width="2" height="140.4" fill="#c4404b"/><rect x="2087.1" y="796.7" width="2" height="177.3" fill="#c4404b"/><rect x="2100.5" y="850.5" width="2" height="36.4" fill="#0a8c78"/><rect x="2113.9" y="790.1" width="2" height="105" fill="#0a8c78"/><rect x="2127.3" y="720" width="2" height="133.2" fill="#0a8c78"/><rect x="2140.8" y="648.4" width="2" height="204" fill="#c4404b"/><rect x="2154.2" y="798.6" width="2" height="79.7" fill="#c4404b"/><rect x="2167.6" y="732.9" width="2" height="116.8" fill="#0a8c78"/><rect x="2181.1" y="708.5" width="2" height="74.2" fill="#0a8c78"/><rect x="2194.5" y="714" width="2" height="38.9" fill="#0a8c78"/><rect x="2207.9" y="603.1" width="2" height="131.7" fill="#0a8c78"/><rect x="2221.3" y="576" width="2" height="79.7" fill="#c4404b"/><rect x="2234.8" y="586.1" width="2" height="119.8" fill="#c4404b"/><rect x="2248.2" y="660.2" width="2" height="144.7" fill="#c4404b"/><rect x="2261.6" y="723.7" width="2" height="165.8" fill="#c4404b"/><rect x="2275.1" y="741.1" width="2" height="85.3" fill="#0a8c78"/><rect x="2288.5" y="758.9" width="2" height="36" fill="#0a8c78"/><rect x="2301.9" y="736.6" width="2" height="74.2" fill="#0a8c78"/><rect x="2315.3" y="751.5" width="2" height="168.4" fill="#c4404b"/><rect x="2328.8" y="858.4" width="2" height="258.3" fill="#c4404b"/><rect x="2342.2" y="942.5" width="2" height="171.4" fill="#0a8c78"/><rect x="2355.6" y="953.2" width="2" height="122.4" fill="#c4404b"/><rect x="2369.1" y="957.9" width="2" height="150.4" fill="#0a8c78"/><rect x="2382.5" y="978.9" width="2" height="60.3" fill="#c4404b"/><rect x="2395.9" y="913.5" width="2" height="127.1" fill="#0a8c78"/><rect x="2409.3" y="878.5" width="2" height="72.4" fill="#0a8c78"/><rect x="2422.8" y="853.7" width="2" height="154.2" fill="#c4404b"/><rect x="2436.2" y="918.2" width="2" height="138.7" fill="#c4404b"/><rect x="2449.6" y="958.8" width="2" height="189.2" fill="#c4404b"/><rect x="2463" y="1088.7" width="2" height="180.8" fill="#c4404b"/><rect x="2476.5" y="1183.1" width="2" height="77.1" fill="#0a8c78"/><rect x="2489.9" y="1188.7" width="2" height="112.1" fill="#c4404b"/><rect x="2503.3" y="1207.8" width="2" height="148.1" fill="#c4404b"/><rect x="2516.8" y="1275.5" width="2" height="141.1" fill="#0a8c78"/><rect x="2530.2" y="1299.8" width="2" height="137.8" fill="#c4404b"/><rect x="2543.6" y="1297.2" width="2" height="218.1" fill="#c4404b"/><rect x="2557" y="1472.7" width="2" height="210.3" fill="#c4404b"/><rect x="2570.5" y="1529.1" width="2" height="64.2" fill="#c4404b"/><rect x="2583.9" y="1450.4" width="2" height="106.5" fill="#0a8c78"/><rect x="2597.3" y="1415.9" width="2" height="122.4" fill="#0a8c78"/><rect x="2610.8" y="1438.2" width="2" height="74.2" fill="#c4404b"/><rect x="2624.2" y="1373.3" width="2" height="133.5" fill="#0a8c78"/><rect x="2637.6" y="1332.5" width="2" height="56.8" fill="#0a8c78"/><rect x="2651" y="1294.3" width="2" height="90.1" fill="#c4404b"/><rect x="2664.5" y="1354.7" width="2" height="29.7" fill="#c4404b"/><rect x="2677.9" y="1329.9" width="2" height="50.8" fill="#c4404b"/><rect x="2691.3" y="1378.1" width="2" height="204.7" fill="#c4404b"/><rect x="2704.8" y="1319.5" width="2" height="188.4" fill="#0a8c78"/><rect x="2718.2" y="1263.1" width="2" height="96.4" fill="#0a8c78"/><rect x="2731.6" y="1265.7" width="2" height="97.6" fill="#c4404b"/><rect x="2745" y="1308.4" width="2" height="140.9" fill="#c4404b"/><rect x="2758.5" y="1381.8" width="2" height="42.7" fill="#c4404b"/><rect x="2771.9" y="1337.3" width="2" height="123.9" fill="#0a8c78"/><rect x="2785.3" y="1321.1" width="2" height="82.1" fill="#0a8c78"/><rect x="2798.7" y="1247.9" width="2" height="158" fill="#0a8c78"/><rect x="2812.2" y="1252.9" width="2" height="90.5" fill="#c4404b"/><rect x="2825.6" y="1280.9" width="2" height="133" fill="#0a8c78"/><rect x="2839" y="1305" width="2" height="100.9" fill="#c4404b"/><rect x="2852.5" y="1371.1" width="2" height="26.4" fill="#c4404b"/><rect x="2865.9" y="1376.1" width="2" height="90.5" fill="#c4404b"/><rect x="2879.3" y="1389.8" width="2" height="59.8" fill="#0a8c78"/>
<rect x="43" y="884.3" width="8" height="100.4" fill="#2962ff" stroke="#089981" stroke-width="2"/><rect x="69.9" y="871.7" width="8" height="37.7" fill="#2962ff" stroke="#089981" stroke-width="2"/><rect x="83.3" y="785.2" width="8" height="84.4" fill="#2962ff" stroke="#089981" stroke-width="2"/><rect x="96.7" y="722.2" width="8" height="61.1" fill="#2962ff" stroke="#089981" stroke-width="2"/><rect x="123.6" y="843.1" width="8" height="13.6" fill="#2962ff" stroke="#089981" stroke-width="2"/><rect x="137" y="805.3" width="8" height="35.8" fill="#2962ff" stroke="#089981" stroke-width="2"/><rect x="150.4" y="792.3" width="8" height="11" fill="#2962ff" stroke="#089981" stroke-width="2"/><rect x="217.6" y="941.8" width="8" height="15.4" fill="#2962ff" stroke="#089981" stroke-width="2"/><rect x="231" y="908.4" width="8" height="31.4" fill="#2962ff" stroke="#089981" stroke-width="2"/><rect x="244.4" y="902.4" width="8" height="3.9" fill="#2962ff" stroke="#089981" stroke-width="2"/><rect x="298.1" y="948" width="8" height="85.5" fill="#2962ff" stroke="#089981" stroke-width="2"/><rect x="311.6" y="911.3" width="8" height="35.1" fill="#2962ff" stroke="#089981" stroke-width="2"/><rect x="325" y="905" width="8" height="5" fill="#2962ff" stroke="#089981" stroke-width="2"/><rect x="338.4" y="765.9" width="8" height="137.5" fill="#2962ff" stroke="#089981" stroke-width="2"/><rect x="350.9" y="763.8" width="10" height="2" fill="#089981"/><rect x="392.1" y="894.6" width="8" height="11" fill="#2962ff" stroke="#089981" stroke-width="2"/><rect x="419" y="911.3" width="8" height="2.5" fill="#2962ff" stroke="#089981" stroke-width="2"/><rect x="432.4" y="872" width="8" height="37.3" fill="#2962ff" stroke="#089981" stroke-width="2"/><rect x="459.3" y="932.4" width="8" height="8" fill="#2962ff" stroke="#089981" stroke-width="2"/><rect x="526.4" y="917.2" width="8" height="134.1" fill="#2962ff" stroke="#089981" stroke-width="2"/><rect x="539.8" y="893.9" width="8" height="21.7" fill="#2962ff" stroke="#089981" stroke-width="2"/><rect x="553.3" y="856" width="8" height="36.2" fill="#2962ff" stroke="#089981" stroke-width="2"/><rect x="579.1" y="863.2" width="10" height="2.6" fill="#089981"/><rect x="593.6" y="857.2" width="8" height="4.7" fill="#2962ff" stroke="#089981" stroke-width="2"/><rect x="607" y="825.3" width="8" height="29.9" fill="#2962ff" stroke="#089981" stroke-width="2"/><rect x="647.3" y="810.4" width="8" height="96.3" fill="#2962ff" stroke="#089981" stroke-width="2"/><rect x="660.7" y="787.1" width="8" height="21.4" fill="#2962ff" stroke="#089981" stroke-width="2"/><rect x="687.6" y="829" width="8" height="5.8" fill="#2962ff" stroke="#089981" stroke-width="2"/><rect x="701" y="799.3" width="8" height="28.4" fill="#2962ff" stroke="#089981" stroke-width="2"/><rect x="727.8" y="807.5" width="8" height="20.3" fill="#2962ff" stroke="#089981" stroke-width="2"/><rect x="741.3" y="736.2" width="8" height="70" fill="#2962ff" stroke="#089981" stroke-width="2"/><rect x="754.7" y="589.5" width="8" height="145.3" fill="#2962ff" stroke="#089981" stroke-width="2"/><rect x="768.1" y="541.3" width="8" height="46.2" fill="#2962ff" stroke="#089981" stroke-width="2"/><rect x="795" y="493.1" width="8" height="50.7" fill="#2962ff" stroke="#089981" stroke-width="2"/><rect x="808.4" y="471.2" width="8" height="19.9" fill="#2962ff" stroke="#089981" stroke-width="2"/><rect x="835.3" y="507.2" width="8" height="26.2" fill="#2962ff" stroke="#089981" stroke-width="2"/><rect x="848.7" y="489.4" width="8" height="16.5" fill="#2962ff" stroke="#089981" stroke-width="2"/><rect x="901.4" y="545.1" width="10" height="3" fill="#089981"/><rect x="915.8" y="466.4" width="8" height="77.7" fill="#2962ff" stroke="#089981" stroke-width="2"/><rect x="969.5" y="529.4" width="8" height="9.1" fill="#2962ff" stroke="#089981" stroke-width="2"/><rect x="983" y="483.1" width="8" height="44.4" fill="#2962ff" stroke="#089981" stroke-width="2"/><rect x="1077" y="645.2" width="8" height="50.7" fill="#2962ff" stroke="#089981" stroke-width="2"/><rect x="1090.4" y="619.2" width="8" height="24.7" fill="#2962ff" stroke="#089981" stroke-width="2"/><rect x="1117.2" y="620" width="8" height="26.9" fill="#2962ff" stroke="#089981" stroke-width="2"/><rect x="1130.7" y="542.8" width="8" height="75.2" fill="#2962ff" stroke="#089981" stroke-width="2"/><rect x="1171" y="488.3" width="8" height="85.2" fill="#2962ff" stroke="#089981" stroke-width="2"/><rect x="1197.8" y="463.1" width="8" height="42.9" fill="#2962ff" stroke="#089981" stroke-width="2"/><rect x="1211.2" y="363.3" width="8" height="97.8" fill="#2962ff" stroke="#089981" stroke-width="2"/><rect x="1250.5" y="543" width="10" height="2" fill="#089981"/><rect x="1264" y="542.2" width="10" height="2" fill="#089981"/><rect x="1305.2" y="644" width="8" height="41.4" fill="#2962ff" stroke="#089981" stroke-width="2"/><rect x="1332.1" y="562.4" width="8" height="135.2" fill="#2962ff" stroke="#089981" stroke-width="2"/><rect x="1385.8" y="720" width="8" height="49.9" fill="#2962ff" stroke="#089981" stroke-width="2"/><rect x="1412.7" y="696.6" width="8" height="39.2" fill="#2962ff" stroke="#089981" stroke-width="2"/><rect x="1439.5" y="811.2" width="8" height="12.5" fill="#2962ff" stroke="#089981" stroke-width="2"/><rect x="1466.4" y="799.7" width="8" height="27.7" fill="#2962ff" stroke="#089981" stroke-width="2"/><rect x="1479.8" y="737.8" width="8" height="59.9" fill="#2962ff" stroke="#089981" stroke-width="2"/><rect x="1493.2" y="721.1" width="8" height="14.7" fill="#2962ff" stroke="#089981" stroke-width="2"/><rect x="1546.9" y="740.4" width="8" height="27.7" fill="#2962ff" stroke="#089981" stroke-width="2"/><rect x="1560.4" y="711.8" width="8" height="27.7" fill="#2962ff" stroke="#089981" stroke-width="2"/><rect x="1587.2" y="652.4" width="8" height="74" fill="#2962ff" stroke="#089981" stroke-width="2"/><rect x="1600.7" y="604.2" width="8" height="46.2" fill="#2962ff" stroke="#089981" stroke-width="2"/><rect x="1614.1" y="587.5" width="8" height="14.7" fill="#2962ff" stroke="#089981" stroke-width="2"/><rect x="1653.4" y="608.8" width="10" height="2" fill="#089981"/><rect x="1667.8" y="564.5" width="8" height="43.3" fill="#2962ff" stroke="#089981" stroke-width="2"/><rect x="1694.7" y="556.7" width="8" height="16.9" fill="#2962ff" stroke="#089981" stroke-width="2"/><rect x="1720.5" y="595.8" width="10" height="2" fill="#089981"/><rect x="1775.2" y="672.1" width="8" height="39.5" fill="#2962ff" stroke="#089981" stroke-width="2"/><rect x="1802.1" y="785.2" width="8" height="18.4" fill="#2962ff" stroke="#089981" stroke-width="2"/><rect x="1828.9" y="706.7" width="8" height="75.9" fill="#2962ff" stroke="#089981" stroke-width="2"/><rect x="1842.4" y="641" width="8" height="63.7" fill="#2962ff" stroke="#089981" stroke-width="2"/><rect x="1869.2" y="507.3" width="8" height="140.7" fill="#2962ff" stroke="#089981" stroke-width="2"/><rect x="1882.6" y="447.1" width="8" height="59.2" fill="#2962ff" stroke="#089981" stroke-width="2"/><rect x="1896.1" y="395" width="8" height="50.1" fill="#2962ff" stroke="#089981" stroke-width="2"/><rect x="1909.5" y="390.5" width="8" height="2.5" fill="#2962ff" stroke="#089981" stroke-width="2"/><rect x="1922.9" y="357.8" width="8" height="30.6" fill="#2962ff" stroke="#089981" stroke-width="2"/><rect x="1936.4" y="320.7" width="8" height="36.1" fill="#2962ff" stroke="#089981" stroke-width="2"/><rect x="1963.2" y="363.3" width="8" height="59.6" fill="#2962ff" stroke="#089981" stroke-width="2"/><rect x="2016.9" y="618.3" width="8" height="131.6" fill="#2962ff" stroke="#089981" stroke-width="2"/><rect x="2030.4" y="612.4" width="8" height="5.2" fill="#2962ff" stroke="#089981" stroke-width="2"/><rect x="2097.5" y="860.8" width="8" height="22.1" fill="#2962ff" stroke="#089981" stroke-width="2"/><rect x="2110.9" y="816.3" width="8" height="42.5" fill="#2962ff" stroke="#089981" stroke-width="2"/><rect x="2124.3" y="757.7" width="8" height="56.6" fill="#2962ff" stroke="#089981" stroke-width="2"/><rect x="2164.6" y="771.8" width="8" height="77" fill="#2962ff" stroke="#089981" stroke-width="2"/><rect x="2178.1" y="743.2" width="8" height="26.6" fill="#2962ff" stroke="#089981" stroke-width="2"/><rect x="2191.5" y="724.3" width="8" height="16.9" fill="#2962ff" stroke="#089981" stroke-width="2"/><rect x="2204.9" y="635.3" width="8" height="87" fill="#2962ff" stroke="#089981" stroke-width="2"/><rect x="2272.1" y="789.6" width="8" height="35.8" fill="#2962ff" stroke="#089981" stroke-width="2"/><rect x="2285.5" y="774.7" width="8" height="12.8" fill="#2962ff" stroke="#089981" stroke-width="2"/><rect x="2298.9" y="759.5" width="8" height="13.2" fill="#2962ff" stroke="#089981" stroke-width="2"/><rect x="2339.2" y="964.5" width="8" height="72.7" fill="#2962ff" stroke="#089981" stroke-width="2"/><rect x="2366.1" y="983.2" width="8" height="58.7" fill="#2962ff" stroke="#089981" stroke-width="2"/><rect x="2392.9" y="938.8" width="8" height="72.7" fill="#2962ff" stroke="#089981" stroke-width="2"/><rect x="2406.3" y="899.1" width="8" height="37.7" fill="#2962ff" stroke="#089981" stroke-width="2"/><rect x="2473.5" y="1221.4" width="8" height="30.7" fill="#2962ff" stroke="#089981" stroke-width="2"/><rect x="2513.8" y="1303.2" width="8" height="23.7" fill="#2962ff" stroke="#089981" stroke-width="2"/><rect x="2580.9" y="1491.1" width="8" height="64" fill="#2962ff" stroke="#089981" stroke-width="2"/><rect x="2594.3" y="1446.6" width="8" height="42.5" fill="#2962ff" stroke="#089981" stroke-width="2"/><rect x="2621.2" y="1378" width="8" height="95.6" fill="#2962ff" stroke="#089981" stroke-width="2"/><rect x="2634.6" y="1352" width="8" height="24" fill="#2962ff" stroke="#089981" stroke-width="2"/><rect x="2701.8" y="1352" width="8" height="153.8" fill="#2962ff" stroke="#089981" stroke-width="2"/><rect x="2715.2" y="1286" width="8" height="64" fill="#2962ff" stroke="#089981" stroke-width="2"/><rect x="2768.9" y="1379.8" width="8" height="33.2" fill="#2962ff" stroke="#089981" stroke-width="2"/><rect x="2782.3" y="1372.1" width="8" height="6.6" fill="#2962ff" stroke="#089981" stroke-width="2"/><rect x="2795.7" y="1310.1" width="8" height="60.5" fill="#2962ff" stroke="#089981" stroke-width="2"/><rect x="2822.6" y="1314" width="8" height="14.6" fill="#2962ff" stroke="#089981" stroke-width="2"/><rect x="2876.3" y="1406.9" width="8" height="40.3" fill="#2962ff" stroke="#089981" stroke-width="2"/>
<rect x="15.2" y="966.4" width="10" height="9.3" fill="#f23645"/><rect x="28.6" y="975.3" width="10" height="10.4" fill="#f23645"/><rect x="55.4" y="883.3" width="10" height="27.1" fill="#f23645"/><rect x="109.1" y="721.2" width="10" height="136.5" fill="#f23645"/><rect x="162.9" y="791.3" width="10" height="15.2" fill="#f23645"/><rect x="176.3" y="806.5" width="10" height="35.6" fill="#f23645"/><rect x="189.7" y="842.1" width="10" height="69.7" fill="#f23645"/><rect x="203.1" y="911.8" width="10" height="46.4" fill="#f23645"/><rect x="256.9" y="901.4" width="10" height="14.5" fill="#f23645"/><rect x="270.3" y="914.7" width="10" height="21.9" fill="#f23645"/><rect x="283.7" y="936.2" width="10" height="98.3" fill="#f23645"/><rect x="364.3" y="764.9" width="10" height="50.8" fill="#f23645"/><rect x="377.7" y="815" width="10" height="91.6" fill="#f23645"/><rect x="404.6" y="893.6" width="10" height="20.8" fill="#f23645"/><rect x="444.8" y="871" width="10" height="70.8" fill="#f23645"/><rect x="471.7" y="931.4" width="10" height="8.2" fill="#f23645"/><rect x="485.1" y="938.8" width="10" height="43" fill="#f23645"/><rect x="498.6" y="981.5" width="10" height="35.2" fill="#f23645"/><rect x="512" y="1016" width="10" height="36.4" fill="#f23645"/><rect x="565.7" y="855" width="10" height="11.9" fill="#f23645"/><rect x="619.4" y="824.3" width="10" height="38.2" fill="#f23645"/><rect x="632.8" y="861.7" width="10" height="46" fill="#f23645"/><rect x="673.1" y="786.1" width="10" height="49.7" fill="#f23645"/><rect x="713.4" y="798.3" width="10" height="30.4" fill="#f23645"/><rect x="780.5" y="540.3" width="10" height="4.5" fill="#f23645"/><rect x="820.8" y="470.2" width="10" height="64.2" fill="#f23645"/><rect x="861.1" y="488.4" width="10" height="39.3" fill="#f23645"/><rect x="874.5" y="527.3" width="10" height="2.6" fill="#f23645"/><rect x="888" y="529.9" width="10" height="20" fill="#f23645"/><rect x="928.3" y="465.4" width="10" height="37.1" fill="#f23645"/><rect x="941.7" y="502.1" width="10" height="13.4" fill="#f23645"/><rect x="955.1" y="515.1" width="10" height="24.5" fill="#f23645"/><rect x="995.4" y="482.1" width="10" height="43.4" fill="#f23645"/><rect x="1008.8" y="524.7" width="10" height="4.5" fill="#f23645"/><rect x="1022.3" y="529.2" width="10" height="4.5" fill="#f23645"/><rect x="1035.7" y="532.9" width="10" height="63.8" fill="#f23645"/><rect x="1049.1" y="596.7" width="10" height="77.9" fill="#f23645"/><rect x="1062.5" y="674.6" width="10" height="22.3" fill="#f23645"/><rect x="1102.8" y="617.9" width="10" height="30" fill="#f23645"/><rect x="1143.1" y="541.8" width="10" height="27.1" fill="#f23645"/><rect x="1156.5" y="567.8" width="10" height="6.7" fill="#f23645"/><rect x="1183.4" y="487.3" width="10" height="19.7" fill="#f23645"/><rect x="1223.7" y="362.3" width="10" height="152.8" fill="#f23645"/><rect x="1237.1" y="515.1" width="10" height="30.4" fill="#f23645"/><rect x="1277.4" y="543" width="10" height="37.1" fill="#f23645"/><rect x="1290.8" y="580.6" width="10" height="106.8" fill="#f23645"/><rect x="1317.7" y="643" width="10" height="55.6" fill="#f23645"/><rect x="1344.5" y="561.4" width="10" height="47.1" fill="#f23645"/><rect x="1358" y="608.5" width="10" height="58.6" fill="#f23645"/><rect x="1371.4" y="667.1" width="10" height="103.9" fill="#f23645"/><rect x="1398.2" y="719" width="10" height="17.8" fill="#f23645"/><rect x="1425.1" y="695.6" width="10" height="129.1" fill="#f23645"/><rect x="1451.9" y="810.2" width="10" height="19.3" fill="#f23645"/><rect x="1505.7" y="720.1" width="10" height="32.3" fill="#f23645"/><rect x="1519.1" y="750.5" width="10" height="2" fill="#f23645"/><rect x="1532.5" y="754.2" width="10" height="14.8" fill="#f23645"/><rect x="1572.8" y="710.8" width="10" height="15.6" fill="#f23645"/><rect x="1626.5" y="586.5" width="10" height="3.7" fill="#f23645"/><rect x="1639.9" y="590.2" width="10" height="21.1" fill="#f23645"/><rect x="1680.2" y="563.5" width="10" height="11.1" fill="#f23645"/><rect x="1707.1" y="555.7" width="10" height="43.8" fill="#f23645"/><rect x="1733.9" y="597.6" width="10" height="13.7" fill="#f23645"/><rect x="1747.4" y="611.4" width="10" height="79" fill="#f23645"/><rect x="1760.8" y="690.4" width="10" height="22.3" fill="#f23645"/><rect x="1787.6" y="671.1" width="10" height="133.5" fill="#f23645"/><rect x="1814.5" y="784.2" width="10" height="2" fill="#f23645"/><rect x="1854.8" y="640" width="10" height="9.1" fill="#f23645"/><rect x="1948.8" y="319.7" width="10" height="104.2" fill="#f23645"/><rect x="1975.6" y="362.3" width="10" height="51.2" fill="#f23645"/><rect x="1989.1" y="413.5" width="10" height="268.6" fill="#f23645"/><rect x="2002.5" y="682.1" width="10" height="68.9" fill="#f23645"/><rect x="2042.8" y="610.5" width="10" height="70.2" fill="#f23645"/><rect x="2056.2" y="678.5" width="10" height="71.6" fill="#f23645"/><rect x="2069.6" y="748.7" width="10" height="81.5" fill="#f23645"/><rect x="2083.1" y="830.1" width="10" height="53.8" fill="#f23645"/><rect x="2136.8" y="756.7" width="10" height="69.7" fill="#f23645"/><rect x="2150.2" y="825.3" width="10" height="24.5" fill="#f23645"/><rect x="2217.3" y="632.8" width="10" height="15.6" fill="#f23645"/><rect x="2230.8" y="648.4" width="10" height="37.1" fill="#f23645"/><rect x="2244.2" y="685.5" width="10" height="88.3" fill="#f23645"/><rect x="2257.6" y="773.4" width="10" height="53" fill="#f23645"/><rect x="2311.3" y="758.5" width="10" height="122.8" fill="#f23645"/><rect x="2324.8" y="880.8" width="10" height="157.4" fill="#f23645"/><rect x="2351.6" y="963.5" width="10" height="79.4" fill="#f23645"/><rect x="2378.5" y="982.2" width="10" height="30.4" fill="#f23645"/><rect x="2418.8" y="898.1" width="10" height="92.5" fill="#f23645"/><rect x="2432.2" y="989.2" width="10" height="43" fill="#f23645"/><rect x="2445.6" y="1032.2" width="10" height="63.1" fill="#f23645"/><rect x="2459" y="1095.2" width="10" height="157.9" fill="#f23645"/><rect x="2485.9" y="1220.4" width="10" height="42" fill="#f23645"/><rect x="2499.3" y="1262.5" width="10" height="65.4" fill="#f23645"/><rect x="2526.2" y="1302.2" width="10" height="44.4" fill="#f23645"/><rect x="2539.6" y="1346.2" width="10" height="153.2" fill="#f23645"/><rect x="2553" y="1498.6" width="10" height="46" fill="#f23645"/><rect x="2566.5" y="1543.9" width="10" height="12.2" fill="#f23645"/><rect x="2606.8" y="1445.6" width="10" height="28.9" fill="#f23645"/><rect x="2647" y="1351" width="10" height="13" fill="#f23645"/><rect x="2660.5" y="1364" width="10" height="2" fill="#f23645"/><rect x="2673.9" y="1365.9" width="10" height="14.8" fill="#f23645"/><rect x="2687.3" y="1379.6" width="10" height="127.2" fill="#f23645"/><rect x="2727.6" y="1285" width="10" height="42.7" fill="#f23645"/><rect x="2741" y="1326.9" width="10" height="86.1" fill="#f23645"/><rect x="2754.5" y="1412.2" width="10" height="2" fill="#f23645"/><rect x="2808.2" y="1309.1" width="10" height="20.5" fill="#f23645"/><rect x="2835" y="1313" width="10" height="70.5" fill="#f23645"/><rect x="2848.5" y="1382.1" width="10" height="2" fill="#f23645"/><rect x="2861.9" y="1383.9" width="10" height="64.3" fill="#f23645"/>
<line x1="20" y1="1405.9" x2="3335" y2="1405.9" stroke="#3a50b0" stroke-width="2" stroke-dasharray="2 4"/>
</g>
<rect x="3347" y="62" width="199" height="51.8" rx="7" fill="#fff" stroke="#ececec" stroke-width="1.8"/>
<g clip-path="url(#axis)">
<text transform="translate(3359.43,1832.92) scale(1.0544,1)" font-size="32.5" fill="#131722"><tspan>76,000.00</tspan></text>
<text transform="translate(3359.43,1709.39) scale(1.0544,1)" font-size="32.5" fill="#131722"><tspan>80,000.00</tspan></text>
<text transform="translate(3359.43,1585.85) scale(1.0544,1)" font-size="32.5" fill="#131722"><tspan>84,000.00</tspan></text>
<text transform="translate(3359.43,1462.32) scale(1.0544,1)" font-size="32.5" fill="#131722"><tspan>88,000.00</tspan></text>
<text transform="translate(3359.43,1338.79) scale(1.0544,1)" font-size="32.5" fill="#131722"><tspan>92,000.00</tspan></text>
<text transform="translate(3359.43,1215.26) scale(1.0544,1)" font-size="32.5" fill="#131722"><tspan>96,000.00</tspan></text>
<text transform="translate(3359.84,1091.73) scale(1.0648,1)" font-size="32.5" fill="#131722"><tspan>100,000.00</tspan></text>
<text transform="translate(3359.84,968.19) scale(1.0648,1)" font-size="32.5" fill="#131722"><tspan>104,000.00</tspan></text>
<text transform="translate(3359.84,844.66) scale(1.0648,1)" font-size="32.5" fill="#131722"><tspan>108,000.00</tspan></text>
<text transform="translate(3359.84,721.13) scale(1.0648,1)" font-size="32.5" fill="#131722"><tspan>112,000.00</tspan></text>
<text transform="translate(3359.84,597.60) scale(1.0648,1)" font-size="32.5" fill="#131722"><tspan>116,000.00</tspan></text>
<text transform="translate(3359.84,474.07) scale(1.0648,1)" font-size="32.5" fill="#131722"><tspan>120,000.00</tspan></text>
<text transform="translate(3359.84,350.53) scale(1.0648,1)" font-size="32.5" fill="#131722"><tspan>124,000.00</tspan></text>
<text transform="translate(3359.84,227.00) scale(1.0648,1)" font-size="32.5" fill="#131722"><tspan>128,000.00</tspan></text>
</g>
<path d="M3340,253 H3541 a5,5 0 0 1 5,5 V294 a5,5 0 0 1 -5,5 H3340 Z" fill="#f77c80"/>
<path d="M3340,830.8 H3541 a5,5 0 0 1 5,5 V871.8 a5,5 0 0 1 -5,5 H3340 Z" fill="#089981"/>
<path d="M3340,1226 H3523 a5,5 0 0 1 5,5 V1267 a5,5 0 0 1 -5,5 H3340 Z" fill="#000000"/>
<path d="M3340,1658 H3523 a5,5 0 0 1 5,5 V1699 a5,5 0 0 1 -5,5 H3340 Z" fill="#089981"/>
<text transform="translate(19.49,39.90) scale(1.0180,1)" font-size="24.8" font-weight="normal" fill="#000000"><tspan>crispus9 created with TradingView.com, Dec 15, 2025 17:15 UTC+3</tspan></text>
<text transform="translate(35.49,94.00) scale(1.0083,1)" font-size="24.5" font-weight="normal" fill="#131722"><tspan>Bitcoin / U.S. Dollar · 1D · Coinbase</tspan></text>
<text transform="translate(443.51,94.00) scale(0.9921,1)" font-size="24.5" font-weight="normal" fill="#131722"><tspan>O</tspan><tspan fill="#089981">88,174.37</tspan></text>
<text transform="translate(583.90,94.00) scale(1.0436,1)" font-size="24.5" font-weight="normal" fill="#131722"><tspan>H</tspan><tspan fill="#089981">90,064.74</tspan></text>
<text transform="translate(729.87,94.00) scale(1.0650,1)" font-size="24.5" font-weight="normal" fill="#131722"><tspan>L</tspan><tspan fill="#089981">88,065.44</tspan></text>
<text transform="translate(875.42,94.00) scale(1.0484,1)" font-size="24.5" font-weight="normal" fill="#131722"><tspan>C</tspan><tspan fill="#089981">89,542.25</tspan></text>
<text transform="translate(1024.00,94.00) scale(0.9517,1)" font-size="24.5" font-weight="normal" fill="#131722"><tspan>Vol</tspan><tspan fill="#089981">2.7 K</tspan></text>
<text transform="translate(36.45,128.00) scale(1.0327,1)" font-size="24.5" font-weight="normal" fill="#131722"><tspan>Supertrend (10, 3)</tspan></text>
<text transform="translate(255.92,128.00) scale(0.7796,1)" font-size="24.5" font-weight="normal" fill="#131722"><tspan>∅</tspan></text>
<text transform="translate(285.92,128.00) scale(1.0492,1)" font-size="24.5" font-weight="normal" fill="#131722"><tspan fill="#f23645">98,103.49</tspan></text>
<text transform="translate(35.44,161.90) scale(1.0365,1)" font-size="24.5" font-weight="normal" fill="#131722"><tspan>EMA (50, close)</tspan></text>
<text transform="translate(229.44,161.90) scale(1.0636,1)" font-size="24.5" font-weight="normal" fill="#131722"><tspan>95,589.03</tspan></text>
<text transform="translate(35.44,195.80) scale(1.0392,1)" font-size="24.5" font-weight="normal" fill="#131722"><tspan>EMA (200, close)</tspan></text>
<text transform="translate(242.44,195.80) scale(1.0317,1)" font-size="24.5" font-weight="normal" fill="#131722"><tspan fill="#9c27b0">103,058.77</tspan></text>
<text transform="translate(3362.41,96.20) scale(1.0345,1)" font-size="24" font-weight="normal" fill="#131722"><tspan>USD</tspan></text>
<text transform="translate(3361.89,285.50) scale(1.0398,1)" font-size="33" font-weight="normal" fill="#ffffff"><tspan>126,131.73</tspan></text>
<text transform="translate(3368.90,863.30) scale(0.9968,1)" font-size="33" font-weight="normal" fill="#ffffff"><tspan>107,420.00</tspan></text>
<text transform="translate(3359.94,1258.50) scale(1.0498,1)" font-size="33" font-weight="normal" fill="#ffffff"><tspan>94,635.45</tspan></text>
<text transform="translate(3361.45,1690.50) scale(1.0387,1)" font-size="33" font-weight="normal" fill="#ffffff"><tspan>80,637.10</tspan></text>
<text transform="translate(210.01,1874.20) scale(0.9844,1)" font-size="33" font-weight="normal" fill="#131722"><tspan>Jun</tspan></text>
<text transform="translate(617.48,1874.20) scale(1.0154,1)" font-size="33" font-weight="normal" fill="#131722"><tspan>Jul</tspan></text>
<text transform="translate(1027.00,1874.20) scale(0.9652,1)" font-size="33" font-weight="normal" fill="#131722"><tspan>Aug</tspan></text>
<text transform="translate(1442.08,1874.20) scale(0.9601,1)" font-size="33" font-weight="normal" fill="#131722"><tspan>Sep</tspan></text>
<text transform="translate(1846.46,1874.20) scale(1.0242,1)" font-size="33" font-weight="normal" fill="#131722"><tspan>Oct</tspan></text>
<text transform="translate(2259.54,1874.20) scale(0.9823,1)" font-size="33" font-weight="normal" fill="#131722"><tspan>Nov</tspan></text>
<text transform="translate(2663.02,1874.20) scale(0.9927,1)" font-size="33" font-weight="normal" fill="#131722"><tspan>Dec</tspan></text>
<text transform="translate(3067.33,1874.20) scale(1.1296,1)" font-size="33" font-weight="bold" fill="#131722"><tspan>2026</tspan></text>
<text transform="translate(98.03,1973.60) scale(0.9564,1)" font-size="43" font-weight="bold" fill="#131722"><tspan>TradingView</tspan></text>
<g fill="#131722"><path d="M24,1943.9 H47.7 V1973.6 H35.9 V1955.7 H24 Z"/><circle cx="58" cy="1949.8" r="5.9"/><path d="M71.8,1943.9 H83.6 L72,1973.6 H58.3 Z"/></g>
</svg></body></html>
